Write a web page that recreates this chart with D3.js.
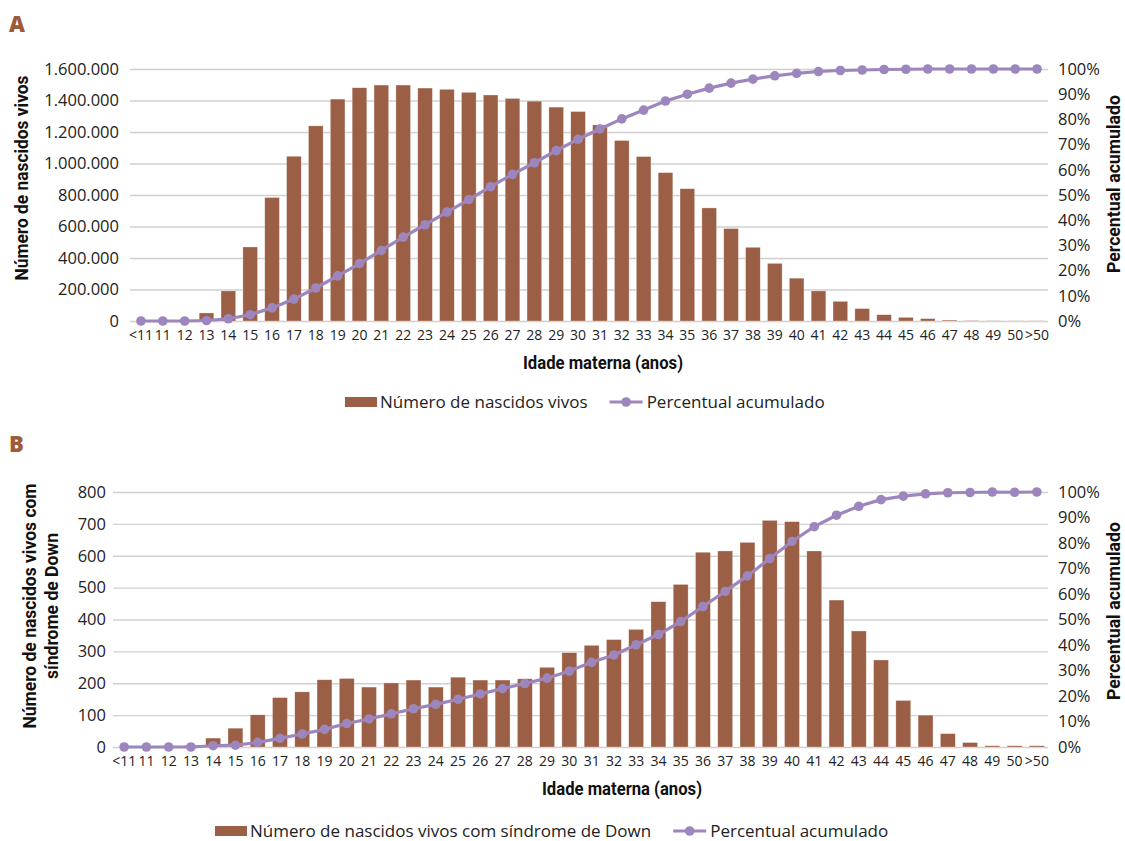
<!DOCTYPE html>
<meta charset="utf-8">
<style>
body { margin: 0; background: #fff; }
.tick text { font-family: "Open Sans", "Noto Sans", sans-serif; fill: #222; }
.grid line { stroke: #d0d0d0; stroke-width: 1.3px; }
.grid path { display: none; }
.title { font-family: "Liberation Sans Narrow", "Roboto", sans-serif; font-weight: bold; font-size: 19px; fill: #111; }
.legend { font-family: "Open Sans", "Noto Sans", sans-serif; font-size: 17px; fill: #222; }
.panel-letter { font-family: "Open Sans", sans-serif; font-weight: 800; font-size: 22px; fill: #9c5b3b; }
</style>
<body>
<script src="https://d3js.org/d3.v7.min.js"></script>
<script>

// categories (maternal age)
var ages = ["<11","11","12","13","14","15","16","17","18","19","20","21","22","23","24","25","26","27","28","29","30",
            "31","32","33","34","35","36","37","38","39","40","41","42","43","44","45","46","47","48","49","50",">50"];

// panel A: live births and cumulative percent
var nascidosVivos = [0, 0, 2000, 51000, 191000, 470000, 784000, 1046000, 1239000, 1409000, 1481000, 1498000, 1498000,
                     1479000, 1471000, 1452000, 1435000, 1413000, 1396000, 1358000, 1330000, 1245000, 1146000, 1044000,
                     942000, 840000, 718000, 587000, 468000, 366000, 272000, 191000, 125000, 79000, 40000, 23000, 15000,
                     6000, 3000, 2000, 1000, 1000];
var percentualA = [0, 0, 0, 0.2, 0.9, 2.5, 5.2, 8.7, 13.1, 17.9, 22.8, 28.0, 33.3, 38.2, 43.2, 48.2, 53.3, 58.2, 62.8,
                   67.6, 72.1, 76.2, 80.2, 83.7, 87.3, 90.0, 92.4, 94.4, 96.0, 97.3, 98.3, 99.0, 99.4, 99.6, 99.8,
                   99.9, 100, 100, 100, 100, 100, 100];

// panel B: live births with Down syndrome and cumulative percent
var nascidosDown = [0, 0, 0, 5, 28, 59, 101, 155, 173, 211, 215, 188, 201, 210, 188, 219, 210, 210, 214, 250, 296,
                    319, 337, 369, 456, 510, 611, 615, 642, 711, 707, 615, 461, 364, 273, 146, 100, 42, 14, 4, 4, 4];
var percentualB = [0, 0, 0, 0, 0.5, 0.7, 1.8, 3.4, 5.1, 6.9, 9.2, 11.0, 13.0, 15.0, 16.7, 18.7, 20.8, 22.9, 24.9,
                   27.0, 29.8, 33.2, 36.1, 40.1, 44.1, 49.2, 55.1, 61.0, 67.1, 73.9, 80.6, 86.4, 90.9, 94.4, 97.0,
                   98.4, 99.3, 99.7, 99.8, 100, 99.9, 100];

var yTicksA = [0, 200000, 400000, 600000, 800000, 1000000, 1200000, 1400000, 1600000];
var yTicksB = [0, 100, 200, 300, 400, 500, 600, 700, 800];
var pctTicks = [0, 10, 20, 30, 40, 50, 60, 70, 80, 90, 100];

var barColor = "#9b5f45", lineColor = "#9d86bd";

var ptBR = d3.formatLocale({decimal: ",", thousands: ".", grouping: [3], currency: ["R$", ""]});
var fmtNum = ptBR.format(",d");

var svg = d3.select("body").append("svg")
    .attr("width", 1125)
    .attr("height", 841);

// squeeze a bold title to the condensed width seen in the original
function condensed(sel, len) {
  return sel.attr("textLength", len).attr("lengthAdjust", "spacingAndGlyphs");
}

function drawPanel(o) {
  var x = d3.scaleBand().domain(ages).range([o.left, o.right]).paddingInner(0.33).paddingOuter(0.165);
  var y = d3.scaleLinear().domain([0, o.yMax]).range([o.bottom, o.top]);
  var y2 = d3.scaleLinear().domain([0, 100]).range([o.bottom, o.top]);

  svg.append("text").attr("class", "panel-letter")
      .attr("x", 9).attr("y", o.letterY).text(o.letter);

  // gridlines
  svg.append("g").attr("class", "grid")
      .attr("transform", "translate(" + o.left + ",0)")
      .call(d3.axisLeft(y).tickValues(o.yTicks).tickSize(-(o.right - o.left)).tickFormat(""));

  // bars
  svg.append("g").selectAll("rect")
      .data(o.bars)
      .join("rect")
      .attr("x", function(d, i) { return x(ages[i]); })
      .attr("width", x.bandwidth())
      .attr("y", function(d) { return y(d); })
      .attr("height", function(d) { return o.bottom - y(d); })
      .attr("fill", barColor)
      .attr("stroke", "#fff")
      .attr("stroke-opacity", 0.5)
      .attr("stroke-width", 0.6);

  // cumulative line
  var line = d3.line()
      .x(function(d, i) { return x(ages[i]) + x.bandwidth() / 2; })
      .y(function(d) { return y2(d); });
  svg.append("path")
      .datum(o.pct)
      .attr("d", line)
      .attr("fill", "none")
      .attr("stroke", lineColor)
      .attr("stroke-width", 3.2);
  svg.append("g").selectAll("circle")
      .data(o.pct)
      .join("circle")
      .attr("cx", function(d, i) { return x(ages[i]) + x.bandwidth() / 2; })
      .attr("cy", function(d) { return y2(d); })
      .attr("r", 4.8)
      .attr("fill", lineColor);

  // axes
  var ax = svg.append("g")
      .attr("transform", "translate(0," + o.bottom + ")")
      .call(d3.axisBottom(x).tickSize(0).tickPadding(9));
  ax.selectAll("text").style("font-size", "14px");

  var ay = svg.append("g")
      .attr("transform", "translate(" + o.left + ",0)")
      .call(d3.axisLeft(y).tickValues(o.yTicks).tickSize(0).tickPadding(o.leftPad).tickFormat(fmtNum));
  ay.selectAll("text").style("font-size", "16.5px");

  var ay2 = svg.append("g")
      .attr("transform", "translate(" + o.right + ",0)")
      .call(d3.axisRight(y2).tickValues(pctTicks).tickSize(0).tickPadding(10).tickFormat(function(d) { return d + "%"; }));
  ay2.selectAll("text").style("font-size", "16.5px");

  svg.selectAll(".domain").remove();

  // axis titles
  condensed(svg.append("text").attr("class", "title")
      .attr("text-anchor", "middle")
      .attr("x", o.xTitleX).attr("y", o.bottom + 48)
      .text("Idade materna (anos)"), 160);

  var lt = svg.append("text").attr("class", "title")
      .attr("text-anchor", "middle")
      .attr("transform", "translate(" + o.yTitleX + "," + o.yTitleY + ") rotate(-90)");
  o.yTitle.forEach(function(t, i) {
    condensed(lt.append("tspan").attr("x", 0).attr("dy", i === 0 ? 0 : "1.15em").text(t), o.yTitleLen[i]);
  });

  condensed(svg.append("text").attr("class", "title")
      .attr("text-anchor", "middle")
      .attr("transform", "translate(" + 1120 + "," + o.y2TitleY + ") rotate(-90)")
      .text("Percentual acumulado"), 178);

  // legend
  var lg = svg.append("g").attr("transform", "translate(" + o.legendX + "," + o.legendY + ")");
  lg.append("rect").attr("x", 0).attr("y", -5).attr("width", 32).attr("height", 10).attr("fill", barColor);
  var t1 = lg.append("text").attr("class", "legend").attr("x", 35).attr("y", 6).text(o.legendLabel);
  var x2 = 35 + t1.node().getComputedTextLength() + 22;
  lg.append("line").attr("x1", x2).attr("x2", x2 + 33).attr("y1", 0).attr("y2", 0)
      .attr("stroke", lineColor).attr("stroke-width", 3.2);
  lg.append("circle").attr("cx", x2 + 16.5).attr("cy", 0).attr("r", 4.8).attr("fill", lineColor);
  lg.append("text").attr("class", "legend").attr("x", x2 + 37).attr("y", 6).text("Percentual acumulado");
}

drawPanel({
  letter: "A", letterY: 32,
  left: 130, right: 1048, top: 69, bottom: 321,
  yMax: 1600000, yTicks: yTicksA, leftPad: 11,
  bars: nascidosVivos, pct: percentualA,
  xTitleX: 603,
  yTitle: ["Número de nascidos vivos"], yTitleLen: [205], yTitleX: 28, yTitleY: 178,
  y2TitleY: 184,
  legendX: 345, legendY: 402,
  legendLabel: "Número de nascidos vivos"
});

drawPanel({
  letter: "B", letterY: 452,
  left: 113, right: 1048, top: 492, bottom: 747,
  yMax: 800, yTicks: yTicksB, leftPad: 7,
  bars: nascidosDown, pct: percentualB,
  xTitleX: 622,
  yTitle: ["Número de nascidos vivos com", "síndrome de Down"], yTitleLen: [245, 146], yTitleX: 36, yTitleY: 606,
  y2TitleY: 611,
  legendX: 215, legendY: 831,
  legendLabel: "Número de nascidos vivos com síndrome de Down"
});

</script>
</body>
